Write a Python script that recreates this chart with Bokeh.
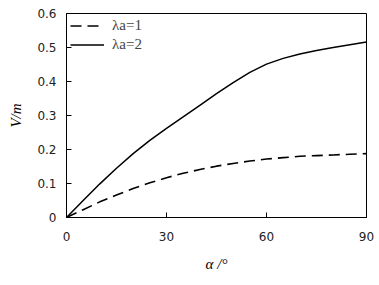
from bokeh.plotting import figure
from bokeh.models import Range1d, FixedTicker, Legend, LegendItem
from bokeh.embed import file_html
from bokeh.resources import INLINE

alpha = [0, 5, 10, 15, 20, 25, 30, 35, 40, 45, 50, 55, 60, 65, 70, 75, 80, 85, 90]
v_lambda2 = [0, 0.05, 0.099, 0.145, 0.188, 0.227, 0.262, 0.296, 0.330, 0.364, 0.397,
             0.427, 0.451, 0.468, 0.481, 0.491, 0.500, 0.508, 0.516]
v_lambda1 = [0, 0.023, 0.046, 0.066, 0.085, 0.102, 0.117, 0.130, 0.141, 0.151, 0.159,
             0.166, 0.172, 0.176, 0.180, 0.182, 0.184, 0.186, 0.188]
x_ticks = [0, 30, 60, 90]
y_ticks = [0, 0.1, 0.2, 0.3, 0.4, 0.5, 0.6]
labels = ["λa=1", "λa=2"]

p = figure(width=379, height=285, output_backend="svg", toolbar_location=None,
           x_range=Range1d(0, 90), y_range=Range1d(0, 0.6),
           min_border_left=66, min_border_right=13, min_border_top=13, min_border_bottom=68)
p.outline_line_color = "black"
p.outline_line_width = 1
p.grid.visible = False
p.background_fill_color = "white"
p.border_fill_color = "white"

r1 = p.line(alpha, v_lambda1, line_color="black", line_width=1.6, line_dash="11 6")
r2 = p.line(alpha, v_lambda2, line_color="black", line_width=1.5)

for ax in (p.xaxis[0], p.yaxis[0]):
    ax.major_tick_in = 5
    ax.major_tick_out = 0
    ax.minor_tick_line_color = None
    ax.axis_line_color = "black"
    ax.major_tick_line_color = "black"
    ax.major_label_text_font = "DejaVu Sans"
    ax.major_label_text_font_size = "12px"
    ax.major_label_text_color = "#222222"
    ax.axis_label_text_font = "Liberation Serif"
    ax.axis_label_text_font_style = "italic"
    ax.axis_label_text_font_size = "15px"
    ax.axis_label_text_color = "black"

p.xaxis.ticker = FixedTicker(ticks=x_ticks)
p.yaxis.ticker = FixedTicker(ticks=y_ticks)
p.xaxis.major_label_overrides = {0: "0", 30: "30", 60: "60", 90: "90"}
p.yaxis.major_label_overrides = {0: "0", 0.1: "0.1", 0.2: "0.2", 0.3: "0.3",
                                 0.4: "0.4", 0.5: "0.5", 0.6: "0.6"}
p.xaxis.major_label_standoff = 14
p.yaxis.major_label_standoff = 10
p.xaxis.axis_label = "α /°"
p.yaxis.axis_label = "V/m"
p.xaxis.axis_label_standoff = 12
p.yaxis.axis_label_standoff = 10

legend = Legend(items=[LegendItem(label=labels[0], renderers=[r1]),
                       LegendItem(label=labels[1], renderers=[r2])],
                location="top_left")
legend.border_line_color = None
legend.background_fill_alpha = 0
legend.label_text_font = "Liberation Serif"
legend.label_text_font_size = "15px"
legend.glyph_width = 34
legend.glyph_height = 17
legend.label_height = 17
legend.spacing = 2
legend.padding = 2
legend.margin = 4
legend.label_standoff = 8
p.add_layout(legend)

open("out.html", "w").write(file_html(p, INLINE))
